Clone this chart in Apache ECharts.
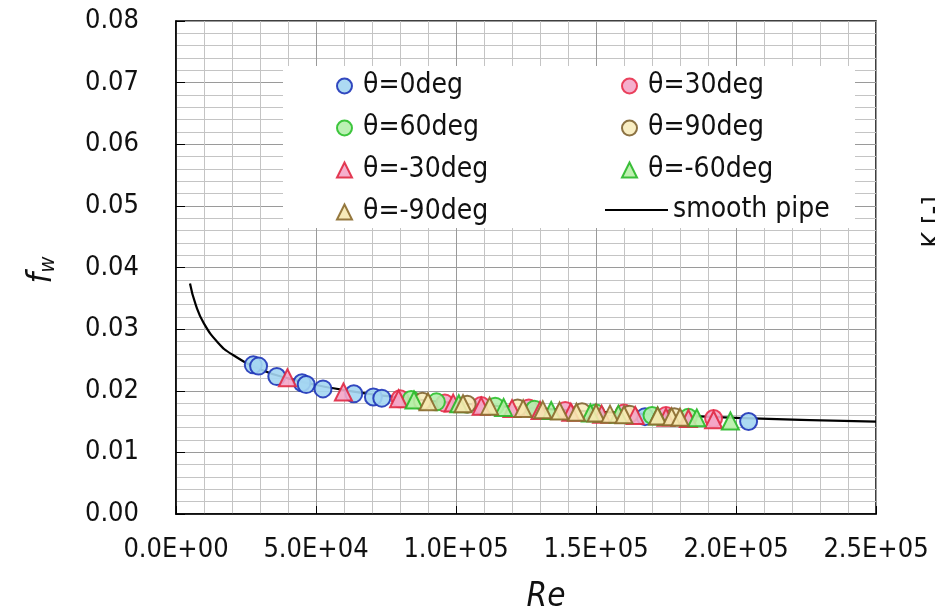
<!DOCTYPE html>
<html>
<head>
<meta charset="utf-8">
<script src="https://cdn.jsdelivr.net/npm/echarts@6/dist/echarts.min.js"></script>
<style>html,body{margin:0;padding:0;background:#fff}#c{width:935px;height:613px}</style>
</head>
<body>
<div id="c"></div>
<script>
// ---- data: [Re, f_w] ----
const theta0 = [[27600,0.0242],[29500,0.0240],[36000,0.0223],[45000,0.0213],[46500,0.0210],[52500,0.0203],[63500,0.0195],[70500,0.0190],[73500,0.0188],[167500,0.0158],[204500,0.0150]];
const theta30 = [[80000,0.0187],[96000,0.0180],[109000,0.0176],[126000,0.0172],[139000,0.0168],[160000,0.0164],[175000,0.0160],[192000,0.0155]];
const theta60 = [[84000,0.0186],[93000,0.0182],[114000,0.0175],[128000,0.0170],[150000,0.0164],[170000,0.0160],[183000,0.0157]];
const theta90 = [[88000,0.0183],[104000,0.0178],[122000,0.0172],[145000,0.0166],[162000,0.0162],[178000,0.0158]];
const thetaM30 = [[39800,0.0221],[59800,0.0198],[79500,0.0187],[99000,0.0180],[109000,0.0175],[120000,0.0171],[130000,0.0168],[141000,0.0165],[152000,0.0162],[164000,0.0160],[175000,0.0157],[183000,0.0155],[192000,0.0153]];
const thetaM60 = [[85000,0.0185],[101000,0.0179],[117000,0.0173],[134000,0.0168],[148000,0.0164],[158000,0.0162],[172000,0.0159],[186000,0.0156],[198000,0.0151]];
const thetaM90 = [[90000,0.0182],[102500,0.0179],[112000,0.0175],[124000,0.0171],[131000,0.0169],[137000,0.0167],[143000,0.0165],[150000,0.0164],[155000,0.0162],[160000,0.0161],[172000,0.0159],[177000,0.0158],[180000,0.0157]];
const pipeRe = [5000,7000,10000,15000,20000,30000,40000,60000,80000,100000,150000,200000,250000];
const pipeF  = [0.0374,0.0340,0.0309,0.0278,0.0259,0.0235,0.0220,0.0201,0.0189,0.0180,0.0166,0.0156,0.0150];
const seriesNames = ['θ=0deg','θ=30deg','θ=60deg','θ=90deg','θ=-30deg','θ=-60deg','θ=-90deg','smooth pipe'];

const FONT = '"DejaVu Sans Condensed", "DejaVu Sans", sans-serif';
const chart = echarts.init(document.getElementById('c'));

function sci(v){
  if (v === 0) return '0.0E+00';
  const e = Math.floor(Math.log10(v) + 1e-9);
  const m = v / Math.pow(10, e);
  return m.toFixed(1) + 'E+' + (e < 10 ? '0' + e : e);
}
function sc(name, data, symbol, fill, stroke, z){
  return {
    name: name, type: 'scatter', data: data, symbol: symbol,
    symbolSize: 17, z: z,
    itemStyle: {color: fill, borderColor: stroke, borderWidth: 2, opacity: 0.9}
  };
}
const legendText = {fontFamily: FONT, fontSize: 28, color: '#111', lineHeight: 26, padding: [0, 0, 0, 6]};

chart.setOption({
  animation: false,
  backgroundColor: '#fff',
  grid: {left: 176, right: 59, top: 21, bottom: 99, show: true, borderColor: '#000', borderWidth: 1.5, backgroundColor: 'transparent'},
  xAxis: {
    type: 'value', min: 0, max: 250000, interval: 50000,
    axisLine: {show: true, onZero: false, lineStyle: {color: '#000', width: 1.5}},
    axisTick: {show: true, inside: true, length: 8, lineStyle: {color: '#000'}},
    minorTick: {show: false, splitNumber: 5},
    splitLine: {show: true, lineStyle: {color: '#9a9a9a', width: 1}},
    minorSplitLine: {show: true, lineStyle: {color: '#c4c4c4', width: 1}},
    axisLabel: {formatter: sci, fontFamily: FONT, fontSize: 27, color: '#111', margin: 22, showMaxLabel: true, showMinLabel: true}
  },
  yAxis: {
    type: 'value', min: 0, max: 0.08, interval: 0.01,
    axisLine: {show: true, onZero: false, lineStyle: {color: '#000', width: 1.5}},
    axisTick: {show: true, inside: true, length: 9, lineStyle: {color: '#000'}},
    minorTick: {show: false, splitNumber: 5},
    splitLine: {show: true, lineStyle: {color: '#9a9a9a', width: 1}},
    minorSplitLine: {show: true, lineStyle: {color: '#c4c4c4', width: 1}},
    axisLabel: {formatter: v => v.toFixed(2), fontFamily: FONT, fontSize: 27, color: '#111', margin: 37}
  },
  legend: [
    {data: [seriesNames[0], seriesNames[2], seriesNames[4], seriesNames[6]], orient: 'vertical', left: 331, top: 67,
     itemWidth: 15, itemHeight: 15, itemGap: 14, textStyle: legendText, z: 10, selectedMode: false},
    {data: [seriesNames[1], seriesNames[3], seriesNames[5]], orient: 'vertical', left: 616, top: 67,
     itemWidth: 15, itemHeight: 15, itemGap: 14, textStyle: legendText, z: 10, selectedMode: false},
    {data: [{name: seriesNames[7], icon: 'rect'}], orient: 'vertical', left: 600, top: 191,
     itemWidth: 63, itemHeight: 2, textStyle: {fontFamily: FONT, fontSize: 28, color: '#111', lineHeight: 26, padding: [0, 0, 0, 0]}, z: 10, selectedMode: false}
  ],
  graphic: [
    {type: 'rect', shape: {x: 283, y: 66, width: 572, height: 162}, style: {fill: '#fff'}, z: 5, silent: true},
    {type: 'text', x: 40, y: 270, rotation: Math.PI / 2, z: 10,
     style: {text: '{f|f}{w|w}', align: 'center', verticalAlign: 'middle',
       rich: {f: {fontFamily: FONT, fontStyle: 'italic', fontSize: 34, fill: '#111', verticalAlign: 'bottom', lineHeight: 38},
              w: {fontFamily: FONT, fontStyle: 'italic', fontSize: 22, fill: '#111', verticalAlign: 'bottom', lineHeight: 28}}}},
    {type: 'text', x: 546, y: 597, z: 10,
     style: {text: 'Re', fontFamily: FONT, fontStyle: 'italic', fontSize: 33, fill: '#111', align: 'center', verticalAlign: 'middle'}},
    {type: 'text', x: 934, y: 222, rotation: Math.PI / 2, z: 10,
     style: {text: 'K [-]', fontFamily: FONT, fontSize: 27, fill: '#111', align: 'center', verticalAlign: 'middle'}}
  ],
  series: [
    {name: seriesNames[7], type: 'line', data: pipeRe.map((r, i) => [r, pipeF[i]]), smooth: true, symbol: 'none',
     lineStyle: {color: '#000', width: 2.2}, itemStyle: {color: '#000'}, z: 2},
    sc(seriesNames[0], theta0, 'circle', '#a4d6f2', '#1f35b8', 3),
    sc(seriesNames[1], theta30, 'circle', '#f4a6c8', '#e8304c', 3),
    sc(seriesNames[2], theta60, 'circle', '#b4f0ac', '#2cc02c', 3),
    sc(seriesNames[3], theta90, 'circle', '#f8ecbc', '#806432', 3),
    sc(seriesNames[4], thetaM30, 'triangle', '#f4a6c8', '#e02842', 4),
    sc(seriesNames[5], thetaM60, 'triangle', '#b8f0a8', '#28b828', 4),
    sc(seriesNames[6], thetaM90, 'triangle', '#f6e8b0', '#8a6a2c', 5)
  ]
});
</script>
</body>
</html>
